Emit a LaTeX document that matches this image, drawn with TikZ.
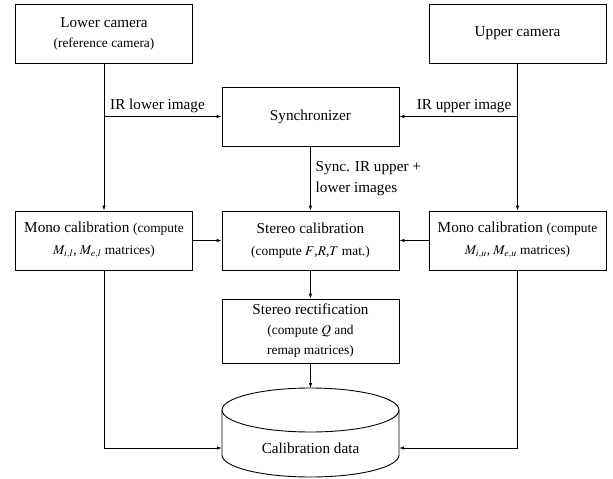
\documentclass[tikz,border=0pt]{standalone}
\usepackage{mathptmx}
\usepackage{fontspec}
\setmainfont{Liberation Serif}
\usetikzlibrary{arrows.meta,calc}
\newcommand\sm{\fontsize{13.4}{20}\selectfont}
\begin{document}
\begin{tikzpicture}[x=1pt,y=-1pt,
  box/.style={draw,line width=0.9pt,minimum width=177pt,minimum height=59pt,inner sep=2pt,align=center,font=\fontsize{15.2}{21}\selectfont},
  lbl/.style={inner sep=3pt,font=\fontsize{15.2}{21}\selectfont},
  conn/.style={line width=0.8pt,-{Latex[length=5pt,width=3.6pt]}}]
\useasboundingbox (0,0) rectangle (613,479);
\node[box] (lower) at (104,33.5) {Lower camera\\[-1pt]{\sm (reference camera)}};
\node[box] (upper) at (517.5,33.5) {Upper camera};
\node[box] (sync) at (310.5,116.5) {Synchronizer};
\node[box] (monol) at (104,240.5) {Mono calibration {\sm (compute}\\[1pt]{\sm $M_{i,l}$, $M_{e,l}$ matrices)}};
\node[box] (stereo) at (310.5,240.5) {Stereo calibration\\[1pt]{\sm (compute $F$,$R$,$T$ mat.)}};
\node[box] (monou) at (517.5,240.5) {Mono calibration {\sm (compute}\\[1pt]{\sm $M_{i,u}$, $M_{e,u}$ matrices)}};
\node[box,minimum height=64pt] (rect) at (310.5,331) {Stereo rectification\\[-1pt]{\sm (compute $Q$ and}\\[-1pt]{\sm remap matrices)}};
% cylinder
\draw[line width=0.9pt] (222,410) -- (222,455) arc[start angle=180,end angle=360,x radius=88.5,y radius=-22] -- (399,410);
\draw[line width=0.9pt] (310.5,410) ellipse[x radius=88.5,y radius=22];
\node[lbl,minimum width=177pt,inner sep=0pt] (cal) at (310.5,448) {Calibration data};
% connectors
\draw[conn] (lower.south) -- (monol.north);
\draw[conn] (lower.south |- sync.west) -- (sync.west);
\node[lbl,anchor=south west] (irl) at ($(lower.south |- sync.west)+(3,-1)$) {IR lower image};
\draw[conn] (upper.south) -- (monou.north);
\draw[conn] (upper.south |- sync.east) -- (sync.east);
\node[lbl,anchor=south east] (iru) at ($(upper.south |- sync.east)+(-3,-1)$) {IR upper image};
\draw[conn] (sync.south) -- (stereo.north);
\node[lbl,anchor=west,align=left] (syl) at ($($(sync.south)!0.5!(stereo.north)$)+(2,0)$) {Sync. IR upper +\\lower images};
\draw[conn] (monol.east) -- (stereo.west);
\draw[conn] (monou.west) -- (stereo.east);
\draw[conn] (stereo.south) -- (rect.north);
\draw[conn] (rect.south) -- (310.5,388);
\draw[conn] (monol.south) |- (cal.west);
\draw[conn] (monou.south) |- (cal.east);
\end{tikzpicture}
\end{document}
